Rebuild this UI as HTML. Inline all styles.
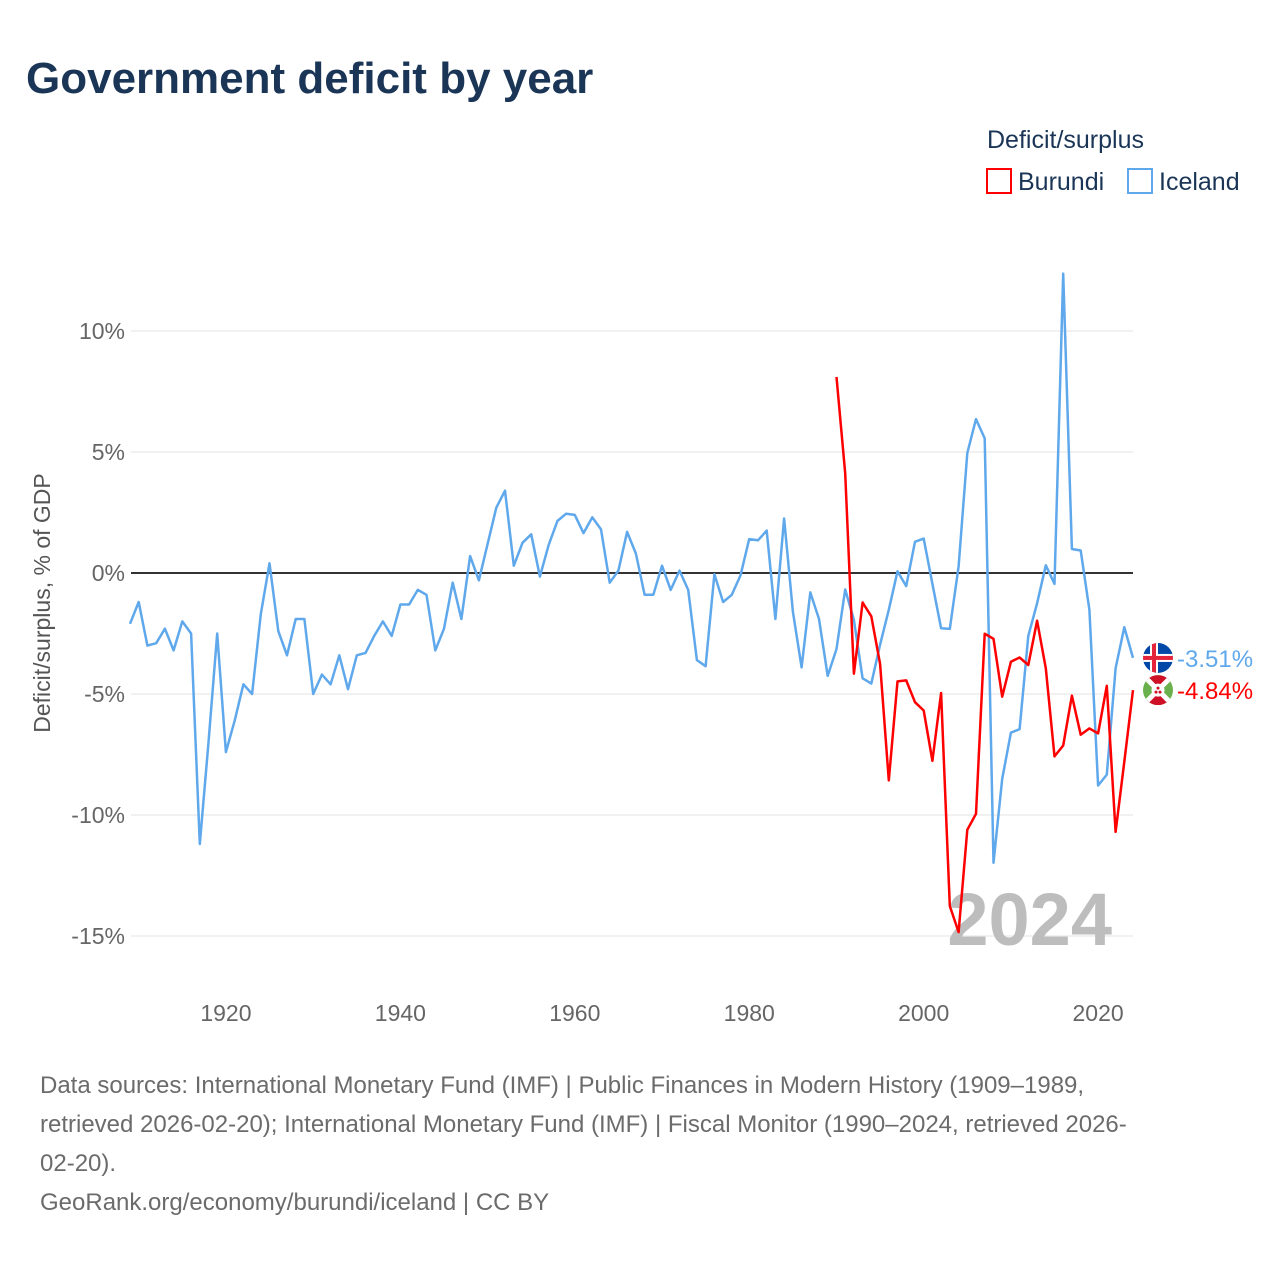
<!DOCTYPE html>
<html><head><meta charset="utf-8">
<style>
body{margin:0;background:#fff;width:1280px;height:1280px;overflow:hidden;font-family:"Liberation Sans",sans-serif;}
</style></head>
<body>
<svg id="chart" width="1280" height="1280" xmlns="http://www.w3.org/2000/svg">
<text x="26" y="93" font-size="44" font-weight="bold" fill="#1b3556">Government deficit by year</text>
<g>
<text x="987" y="148" font-size="25" fill="#1b3556">Deficit/surplus</text>
<g><rect x="987" y="169" width="24" height="24" fill="none" stroke="#ff0000" stroke-width="2"/><text x="1018" y="190" font-size="25" fill="#1b3556">Burundi</text></g>
<g><rect x="1128" y="169" width="24" height="24" fill="none" stroke="#5fa8ec" stroke-width="2"/><text x="1159" y="190" font-size="25" fill="#1b3556">Iceland</text></g>
</g>
<g id="grid"></g>
<g id="yticks"></g>
<g id="xticks"></g>
<text x="1112" y="945" font-size="74" font-weight="bold" fill="#bdbdbd" text-anchor="end">2024</text>
<g id="series"></g>
<text transform="translate(50,603) rotate(-90)" font-size="23" fill="#555" text-anchor="middle">Deficit/surplus, % of GDP</text>
<g id="endlabels"></g>
<g font-size="24" fill="#6b6b6b">
<text x="40" y="1093">Data sources: International Monetary Fund (IMF) | Public Finances in Modern History (1909–1989,</text>
<text x="40" y="1132">retrieved 2026-02-20); International Monetary Fund (IMF) | Fiscal Monitor (1990–2024, retrieved 2026-</text>
<text x="40" y="1171">02-20).</text>
<text x="40" y="1210">GeoRank.org/economy/burundi/iceland | CC BY</text>
</g>
</svg>
<script>
const icelandStart = 1909;
const icelandValues = [-2.1,-1.2,-3.0,-2.9,-2.3,-3.2,-2.0,-2.5,-11.2,-7.0,-2.5,-7.4,-6.1,-4.6,-5.0,-1.7,0.4,-2.4,-3.4,-1.9,-1.9,-5.0,-4.2,-4.6,-3.4,-4.8,-3.4,-3.3,-2.6,-2.0,-2.6,-1.3,-1.3,-0.7,-0.9,-3.2,-2.3,-0.4,-1.9,0.7,-0.3,1.2,2.7,3.4,0.3,1.25,1.6,-0.15,1.15,2.15,2.45,2.4,1.65,2.3,1.8,-0.4,0.1,1.7,0.8,-0.9,-0.9,0.3,-0.7,0.1,-0.7,-3.6,-3.85,-0.05,-1.2,-0.9,-0.1,1.4,1.35,1.75,-1.9,2.25,-1.6,-3.9,-0.8,-1.9,-4.25,-3.14,-0.68,-1.94,-4.35,-4.57,-2.96,-1.52,0.07,-0.54,1.29,1.42,-0.45,-2.28,-2.31,0.27,4.96,6.36,5.56,-11.97,-8.51,-6.6,-6.45,-2.6,-1.25,0.32,-0.45,12.37,0.99,0.93,-1.52,-8.78,-8.33,-3.94,-2.24,-3.51];
const burundiStart = 1990;
const burundiValues = [8.1,4.12,-4.16,-1.22,-1.79,-3.76,-8.57,-4.48,-4.44,-5.34,-5.68,-7.76,-4.96,-13.76,-14.84,-10.61,-9.95,-2.51,-2.72,-5.11,-3.67,-3.49,-3.8,-1.97,-3.94,-7.58,-7.13,-5.07,-6.68,-6.42,-6.63,-4.66,-10.7,-7.8,-4.84];
const yTicks = [10,5,0,-5,-10,-15];
const xTicks = [1920,1940,1960,1980,2000,2020];

const NS="http://www.w3.org/2000/svg";
const X0=131, X1=1133, Y_ZERO=573, PX_PER=24.2;
const xs=yr=>130+(yr-1909)*(1133-130)/(2024-1909);
const ys=v=>Y_ZERO-v*PX_PER;
function mk(tag,attrs,parent){const e=document.createElementNS(NS,tag);for(const k in attrs)e.setAttribute(k,attrs[k]);parent.appendChild(e);return e;}
const grid=document.getElementById('grid'),yt=document.getElementById('yticks'),xt=document.getElementById('xticks'),ser=document.getElementById('series'),el=document.getElementById('endlabels');
yTicks.forEach(t=>{
  const l=mk('line',{x1:X0,x2:X1,y1:ys(t),y2:ys(t),stroke:t===0?'#333':'#e3e3e3','stroke-width':t===0?2:1},grid);
  
  
  const tx=mk('text',{x:125,y:ys(t)+8,'font-size':23,fill:'#666','text-anchor':'end'},yt);
  tx.textContent=t+'%';
  
  
});
xTicks.forEach(t=>{
  const tx=mk('text',{x:xs(t),y:1021,'font-size':23,fill:'#666','text-anchor':'middle'},xt);
  tx.textContent=t;
  
  
});
function line(start,vals,color,name){
  const d=vals.map((v,i)=>(i?'L':'M')+xs(start+i).toFixed(1)+' '+ys(v).toFixed(1)).join(' ');
  const p=mk('path',{d:d,fill:'none',stroke:color,'stroke-width':2.5,'stroke-linejoin':'round'},ser);
  
  
}
line(icelandStart,icelandValues,'#5fa8ec','iceland-line');
line(burundiStart,burundiValues,'#ff0000','burundi-line');
const iv=icelandValues[icelandValues.length-1], bv=burundiValues[burundiValues.length-1];
const iy=ys(iv), by=ys(bv);
const defs=mk('defs',{},el);
const c1=mk('clipPath',{id:'ci'},defs); mk('circle',{cx:1158,cy:iy,r:15},c1);
const c2=mk('clipPath',{id:'cb'},defs); mk('circle',{cx:1158,cy:by,r:15},c2);
// Iceland flag
const gI=mk('g',{'clip-path':'url(#ci)'},el);


mk('rect',{x:1143,y:iy-15,width:30,height:30,fill:'#0048a8'},gI);
mk('rect',{x:1143,y:iy-4,width:30,height:8,fill:'#fff'},gI);
mk('rect',{x:1150,y:iy-15,width:8,height:30,fill:'#fff'},gI);
mk('rect',{x:1143,y:iy-2,width:30,height:4,fill:'#e3243b'},gI);
mk('rect',{x:1152,y:iy-15,width:4,height:30,fill:'#e3243b'},gI);
const tI=mk('text',{x:1177,y:iy+9,'font-size':24,fill:'#5fa8ec'},el);
tI.textContent=iv.toFixed(2)+'%';


// Burundi flag
const gB=mk('g',{'clip-path':'url(#cb)'},el);


mk('rect',{x:1143,y:by-15,width:30,height:30,fill:'#6ab04c'},gB);
mk('path',{d:`M1143 ${by-15} L1173 ${by-15} L1158 ${by} Z M1143 ${by+15} L1173 ${by+15} L1158 ${by} Z`,fill:'#ce1126'},gB);
mk('path',{d:`M1143 ${by-15} L1173 ${by+15} M1173 ${by-15} L1143 ${by+15}`,stroke:'#fff','stroke-width':5},gB);
mk('circle',{cx:1158,cy:by,r:6.5,fill:'#fff'},gB);
mk('circle',{cx:1158,cy:by-2,r:1.5,fill:'#ce1126'},gB);
mk('circle',{cx:1156,cy:by+2,r:1.5,fill:'#ce1126'},gB);
mk('circle',{cx:1160,cy:by+2,r:1.5,fill:'#ce1126'},gB);
const tB=mk('text',{x:1177,y:by+9,'font-size':24,fill:'#ff0000'},el);
tB.textContent=bv.toFixed(2)+'%';


</script>
</body></html>
